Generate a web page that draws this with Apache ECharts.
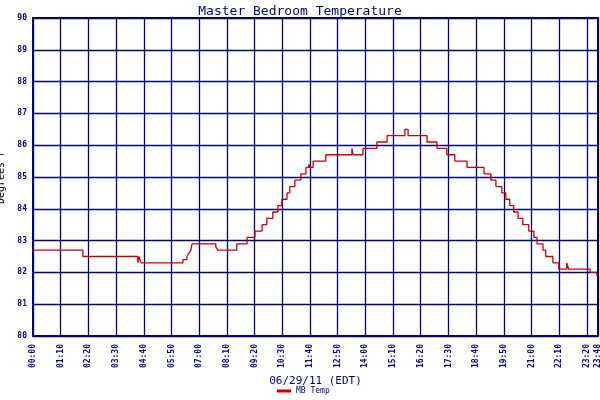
<!DOCTYPE html>
<html><head><meta charset="utf-8">
<script src="https://cdn.jsdelivr.net/npm/echarts@6/dist/echarts.min.js"></script>
<style>html,body{margin:0;padding:0;background:#fff}#c{width:600px;height:400px}</style>
</head><body><div id="c"></div>
<script>
const minutes = [0,126,265,268,273,379,389,394,399,402,462,467,515,541,561,579,591,606,619,629,642,649,662,677,690,697,700,708,740,806,809,834,869,895,940,948,996,1021,1046,1066,1097,1140,1157,1170,1185,1195,1205,1215,1226,1238,1253,1266,1274,1289,1296,1314,1329,1349,1354,1408,1425,1428];
const temps = [82.7,82.5,82.3,82.5,82.3,82.4,82.5,82.6,82.7,82.9,82.8,82.7,82.9,83.1,83.3,83.5,83.7,83.9,84.1,84.3,84.5,84.7,84.9,85.1,85.3,85.4,85.3,85.5,85.7,85.9,85.7,85.9,86.1,86.3,86.5,86.3,86.1,85.9,85.7,85.5,85.3,85.1,84.9,84.7,84.5,84.3,84.1,83.9,83.7,83.5,83.3,83.1,82.9,82.7,82.5,82.3,82.1,82.3,82.1,82.0,81.9,81.9];
const yTicks = [80,81,82,83,84,85,86,87,88,89,90];
const navy = '#000080';
const font = 'DejaVu Sans Mono';
function fmt(m){const h=Math.floor(m/60),mm=m%60;return String(h).padStart(2,'0')+':'+String(mm).padStart(2,'0');}
const chart = echarts.init(document.getElementById('c'));
chart.setOption({
  animation:false,
  title:{text:'Master Bedroom Temperature',left:'center',top:0,textStyle:{color:navy,fontFamily:font,fontSize:13,fontWeight:'normal'}},
  grid:{left:33,right:2,top:18,bottom:64,containLabel:false,outerBoundsMode:'none',show:true,borderColor:navy,borderWidth:2,backgroundColor:'#fff'},
  legend:{bottom:0,left:272,itemWidth:14,itemHeight:3,icon:'rect',textStyle:{color:navy,fontFamily:font,fontSize:8},data:['MB Temp']},
  xAxis:{type:'value',min:0,max:1428,interval:70,
    name:'06/29/11 (EDT)',nameLocation:'middle',nameGap:40,nameTextStyle:{color:navy,fontFamily:font,fontSize:11},
    axisLine:{show:true,lineStyle:{color:navy,width:2}},axisTick:{show:false},
    splitLine:{show:true,lineStyle:{color:navy,width:1.3}},
    axisLabel:{rotate:90,color:navy,fontFamily:font,fontSize:8,fontWeight:'bold',showMaxLabel:true,showMinLabel:true,formatter:v=>fmt(v)}},
  yAxis:{type:'value',min:yTicks[0],max:yTicks[yTicks.length-1],interval:1,
    name:'Degrees F',nameLocation:'middle',nameGap:24,nameTextStyle:{color:'#000',fontFamily:font,fontSize:10},
    axisLine:{show:true,lineStyle:{color:navy,width:2}},axisTick:{show:false},
    splitLine:{show:true,lineStyle:{color:navy,width:1.3}},
    axisLabel:{color:navy,fontFamily:font,fontSize:8,fontWeight:'bold',margin:6}},
  series:[{name:'MB Temp',type:'line',step:'end',symbol:'none',
    lineStyle:{color:'#cc0000',width:1.3},itemStyle:{color:'#cc0000'},
    data:minutes.map((m,i)=>[m,temps[i]])}]
});
</script></body></html>
